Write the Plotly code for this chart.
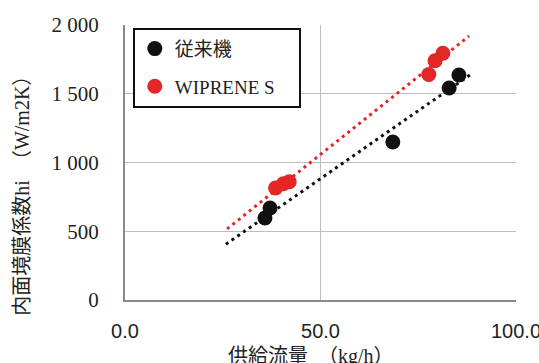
import numpy as np
import plotly.graph_objects as go

# Data
conv_flow = [35.8, 37.1, 68.5, 82.9, 85.4]
conv_hi = [596, 669, 1149, 1542, 1636]
wip_flow = [38.5, 40.5, 42.0, 77.7, 79.3, 81.3]
wip_hi = [815, 845, 860, 1640, 1740, 1795]
conv_trend_range = [25.8, 88.7]
wip_trend_range = [26.1, 88.0]

x_tickvals = [0, 50, 100]
x_ticktext = ["0.0", "50.0", "100.0"]
y_tickvals = [0, 500, 1000, 1500, 2000]
y_ticktext = ["0", "500", "1 000", "1 500", "2 000"]

series_names = ["従来機", "WIPRENE S\u00a0\u00a0\u00a0\u00a0"]
colors = ["#111111", "#e32626"]

serif = "Liberation Serif, Noto Sans CJK JP, serif"

fig = go.Figure()


def trend(xs, ys, rng):
    k, b = np.polyfit(xs, ys, 1)
    tx = np.array(rng)
    return tx, k * tx + b


for i, (xs, ys, rng) in enumerate([(conv_flow, conv_hi, conv_trend_range),
                                   (wip_flow, wip_hi, wip_trend_range)]):
    tx, ty = trend(xs, ys, rng)
    fig.add_trace(go.Scatter(x=tx, y=ty, mode="lines", showlegend=False,
                             line=dict(color=colors[i], width=3, dash="3px,4px"),
                             hoverinfo="skip"))

for i, (xs, ys) in enumerate([(conv_flow, conv_hi), (wip_flow, wip_hi)]):
    fig.add_trace(go.Scatter(x=xs, y=ys, mode="markers", name=series_names[i],
                             legendgroup=f"g{i}",
                             marker=dict(color=colors[i], size=15)))

fig.update_layout(
    width=539, height=363,
    margin=dict(l=125, r=23, t=25, b=63, autoexpand=False),
    plot_bgcolor="white", paper_bgcolor="white",
    font=dict(family=serif, size=20, color="#222"),
    legend=dict(x=0.02, y=0.99, xanchor="left", yanchor="top",
                bordercolor="#111", borderwidth=2, bgcolor="white",
                font=dict(family=serif, size=19, color="#222"),
                tracegroupgap=10, itemwidth=30),
    annotations=[
        dict(text="供給流量　（kg/h）", xref="paper", yref="paper",
             x=0.475, y=-0.204, showarrow=False, xanchor="center", yanchor="middle",
             font=dict(family=serif, size=20, color="#222")),
        dict(text="内面境膜係数hi　（W/m2K）", xref="paper", yref="paper",
             x=-0.262, y=0.396, showarrow=False, textangle=-90,
             xanchor="center", yanchor="middle",
             font=dict(family=serif, size=20, color="#222")),
    ],
)

fig.update_xaxes(range=[0, 100], tickvals=x_tickvals, ticktext=x_ticktext,
                 showgrid=True, gridcolor="#bdbdbd", gridwidth=1,
                 showline=True, linecolor="#8a8a8a", linewidth=2,
                 ticks="", ticklabelstandoff=12, zeroline=False,
                 ticklabeloverflow="allow", automargin=False,
                 tickfont=dict(family="Liberation Sans, Arial, sans-serif", size=20, color="#222"))
fig.update_yaxes(range=[0, 2000], tickvals=y_tickvals, ticktext=y_ticktext,
                 showgrid=True, gridcolor="#bdbdbd", gridwidth=1,
                 showline=True, linecolor="#8a8a8a", linewidth=2,
                 ticks="", ticklabelstandoff=20, zeroline=False, automargin=False,
                 tickfont=dict(family=serif, size=21, color="#222"))

fig.write_html("out.html", config={"displayModeBar": False},
               post_script="document.body.style.margin='0';document.body.style.overflow='hidden';")
